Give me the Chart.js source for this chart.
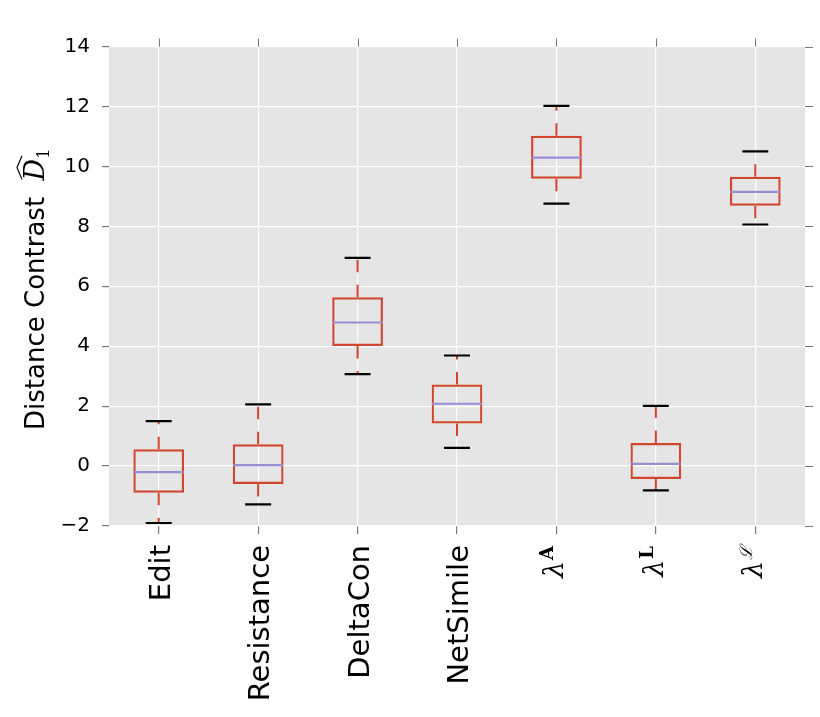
<!DOCTYPE html>
<html><head><meta charset="utf-8">
<script src="https://cdn.jsdelivr.net/npm/chart.js@4.4.1/dist/chart.umd.min.js"></script>
<style>html,body{margin:0;padding:0;background:#fff}#wrap{width:820px;height:717px;position:relative}</style>
</head><body><div id="wrap"><canvas id="c"></canvas></div>
<script>
// ---- data ----
const categories = ['Edit', 'Resistance', 'DeltaCon', 'NetSimile', 'λ𝐀', 'λ𝐋', 'λℒ'];
const labelBase = ['Edit', 'Resistance', 'DeltaCon', 'NetSimile', 'λ', 'λ', 'λ'];
const labelSup = ['', '', '', '', 'A', 'L', 'ℒ'];
const whiskerLow = [-1.90, -1.28, 3.07, 0.61, 8.76, -0.81, 8.06];
const boxQ1 = [-0.89, -0.60, 4.01, 1.42, 9.59, -0.43, 8.69];
const median = [-0.20, 0.03, 4.79, 2.08, 10.29, 0.07, 9.15];
const boxQ3 = [0.56, 0.73, 5.63, 2.72, 11.02, 0.77, 9.65];
const whiskerHigh = [1.50, 2.06, 6.95, 3.69, 12.02, 2.01, 10.50];
const yTicks = [-2, 0, 2, 4, 6, 8, 10, 12, 14];
const yTitle = 'Distance Contrast';

const RED = '#D2452F', PURPLE = '#988ED5', TICK = '#777';

const boxData = boxQ1.map((q1, i) => [q1, boxQ3[i]]);
const whiskerData = [];
categories.forEach((c, i) => {
  whiskerData.push({x: c, y: boxQ3[i]}, {x: c, y: whiskerHigh[i]}, {x: c, y: null});
  whiskerData.push({x: c, y: boxQ1[i]}, {x: c, y: whiskerLow[i]}, {x: c, y: null});
});

const decor = {
  id: 'decor',
  beforeDraw(chart) {
    const {ctx, chartArea: a} = chart;
    ctx.save();
    ctx.fillStyle = '#E5E5E5';
    ctx.fillRect(a.left, a.top, a.right - a.left, a.bottom - a.top);
    ctx.restore();
  },
  afterDraw(chart) {
    const {ctx, chartArea: a, scales} = chart;
    const xs = scales.x, ys = scales.y;
    ctx.save();
    // top & right tick marks
    ctx.strokeStyle = TICK; ctx.lineWidth = 1;
    categories.forEach((c, i) => {
      const px = Math.round(xs.getPixelForValue(i)) + 0.5;
      ctx.beginPath(); ctx.moveTo(px, a.top); ctx.lineTo(px, a.top - 8); ctx.stroke();
    });
    yTicks.forEach(v => {
      const py = Math.round(ys.getPixelForValue(v)) + 0.5;
      ctx.beginPath(); ctx.moveTo(a.right, py); ctx.lineTo(a.right + 8, py); ctx.stroke();
    });
    // x labels (rotated)
    ctx.fillStyle = '#000';
    categories.forEach((c, i) => {
      const px = xs.getPixelForValue(i);
      ctx.save();
      ctx.translate(px, a.bottom + 19);
      ctx.rotate(-Math.PI / 2);
      ctx.textBaseline = 'alphabetic';
      ctx.textAlign = 'left';
      if (!labelSup[i]) {
        ctx.font = '29px "DejaVu Sans"';
        const m = ctx.measureText(labelBase[i]);
        const asc = m.actualBoundingBoxAscent, desc = m.actualBoundingBoxDescent;
        ctx.fillText(labelBase[i], -m.width, (asc - desc) / 2);
      } else {
        const baseFont = 'italic 27px "DejaVu Serif"';
        ctx.font = baseFont;
        const mb = ctx.measureText(labelBase[i]);
        const supFont = labelSup[i] === 'ℒ' ? 'italic 17px "DejaVu Serif"' : 'bold 18px "DejaVu Serif"';
        ctx.font = supFont;
        const ms = ctx.measureText(labelSup[i]);
        const total = mb.width + ms.width + 1;
        const base = 7;
        ctx.font = baseFont;
        ctx.fillText(labelBase[i], -total - 1, base);
        ctx.font = supFont;
        ctx.fillText(labelSup[i], -total - 1 + mb.width + 1, base - 10);
      }
      ctx.restore();
    });
    // y title
    const cy = (a.top + a.bottom) / 2 + 3;
    ctx.save();
    ctx.translate(44, cy);
    ctx.rotate(-Math.PI / 2);
    ctx.textBaseline = 'alphabetic';
    ctx.textAlign = 'left';
    ctx.font = '26px "DejaVu Sans"';
    const w1 = ctx.measureText(yTitle + '  ').width;
    ctx.font = 'italic 27px "DejaVu Serif"';
    const wD = ctx.measureText('D').width;
    ctx.font = '16px "DejaVu Serif"';
    const wS = ctx.measureText('1').width;
    const total = w1 + wD + wS;
    let x = -total / 2;
    ctx.font = '26px "DejaVu Sans"';
    ctx.fillText(yTitle, x, 0);
    x += w1;
    ctx.font = 'italic 27px "DejaVu Serif"';
    ctx.fillText('D', x, 0);
    // wide hat
    ctx.strokeStyle = '#000'; ctx.lineWidth = 1.2;
    ctx.beginPath();
    ctx.moveTo(x + 1, -22); ctx.lineTo(x + wD / 2 + 2, -27); ctx.lineTo(x + wD + 3, -22);
    ctx.stroke();
    ctx.font = '16px "DejaVu Serif"';
    ctx.fillText('1', x + wD, 5);
    ctx.restore();
    ctx.restore();
  }
};

new Chart(document.getElementById('c'), {
  type: 'bar',
  data: {
    labels: categories,
    datasets: [
      {
        type: 'line', label: 'whiskers', data: whiskerData, order: 4,
        borderColor: RED, borderWidth: 2, borderDash: [12.5, 12.5],
        pointRadius: 0, spanGaps: false, fill: false, tension: 0
      },
      {
        type: 'bar', label: 'box', data: boxData, order: 3,
        backgroundColor: 'rgba(0,0,0,0)', borderColor: RED, borderWidth: 2.2,
        borderSkipped: false, barPercentage: 0.51, categoryPercentage: 1.0
      },
      {
        type: 'line', label: 'median', data: median, order: 2, showLine: false,
        pointStyle: 'line', pointRadius: 25, pointBorderColor: PURPLE, pointBorderWidth: 2.2,
        borderColor: PURPLE
      },
      {
        type: 'line', label: 'capHigh', data: whiskerHigh, order: 1, showLine: false,
        pointStyle: 'line', pointRadius: 13, pointBorderColor: '#000', pointBorderWidth: 2.2,
        borderColor: '#000'
      },
      {
        type: 'line', label: 'capLow', data: whiskerLow, order: 1, showLine: false,
        pointStyle: 'line', pointRadius: 13, pointBorderColor: '#000', pointBorderWidth: 2.2,
        borderColor: '#000'
      }
    ]
  },
  options: {
    responsive: true, maintainAspectRatio: false, animation: false, events: [],
    layout: {autoPadding: false, padding: {top: 46.5, right: 15, left: 0, bottom: 0}},
    plugins: {legend: {display: false}, tooltip: {enabled: false}},
    scales: {
      x: {
        type: 'category', offset: true,
        grid: {offset: false, color: '#fff', lineWidth: 1.2, tickColor: TICK, tickLength: 8, drawTicks: true},
        border: {display: false},
        ticks: {display: false},
        afterFit: s => { s.height = 191; }
      },
      y: {
        min: -2, max: 14,
        afterBuildTicks: s => { s.ticks = yTicks.map(v => ({value: v})); },
        grid: {color: '#fff', lineWidth: 1.2, tickColor: TICK, tickLength: 7},
        border: {display: false},
        ticks: {
          color: '#000', padding: 12, font: {family: '"DejaVu Sans"', size: 20},
          callback: v => v < 0 ? '\u2212' + Math.abs(v) : String(v)
        },
        afterFit: s => { s.width = 109; }
      }
    }
  },
  plugins: [decor]
});
</script>
</body></html>
